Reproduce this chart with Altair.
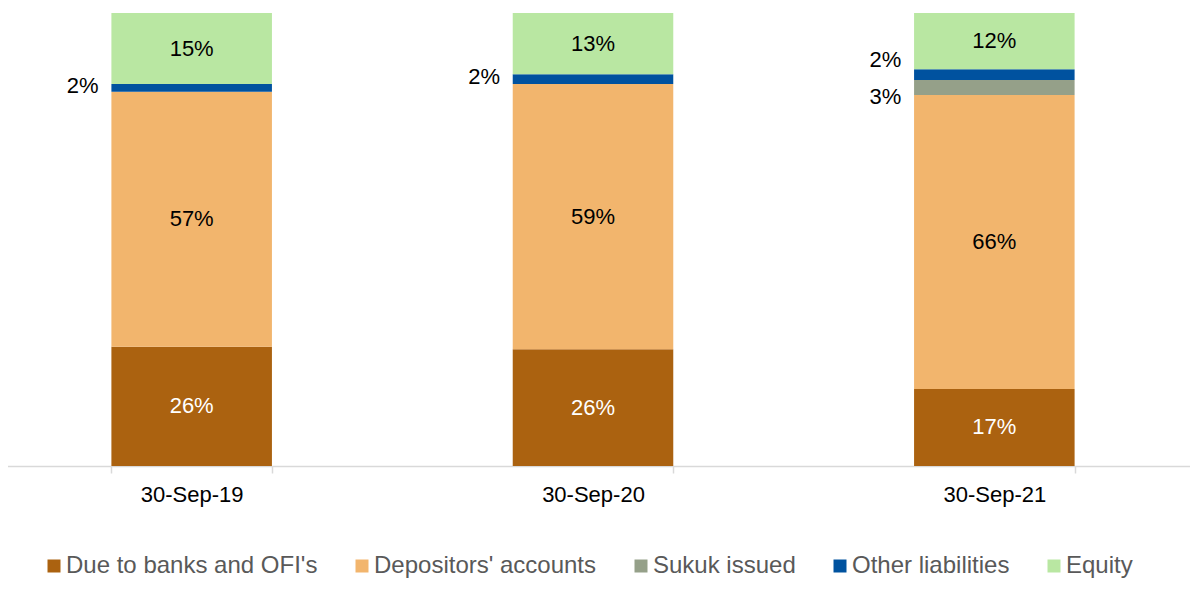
import altair as alt
import pandas as pd

dates = ["30-Sep-19", "30-Sep-20", "30-Sep-21"]
series = ["Due to banks and OFI's", "Depositors' accounts", "Sukuk issued",
          "Other liabilities", "Equity"]
colors = ["#AB6210", "#F2B56D", "#95A089", "#00529F", "#B9E7A2"]

due = [26.3, 25.8, 17.0]
depositors = [56.3, 58.5, 64.9]
sukuk = [0.0, 0.0, 3.3]
other = [1.7, 2.2, 2.4]
equity = [15.7, 13.5, 12.4]

labels_due = ["26%", "26%", "17%"]
labels_dep = ["57%", "59%", "66%"]
labels_sukuk = ["", "", "3%"]
labels_other = ["2%", "2%", "2%"]
labels_equity = ["15%", "13%", "12%"]

# label placement styles (inside / left of bar), vertical nudge in % units
placement = ["inside", "inside", "outside", "outside", "inside"]
text_colors = ["#FFFFFF", "#000000", "#000000", "#000000", "#000000"]
nudge_sukuk = [0.0, 0.0, -2.1]
nudge_other = [0.4, 0.5, 3.2]

values = [due, depositors, sukuk, other, equity]
labels = [labels_due, labels_dep, labels_sukuk, labels_other, labels_equity]
nudges = [[0, 0, 0], [0, 0, 0], nudge_sukuk, nudge_other, [0, 0, 0]]

rows = []
for si, s in enumerate(series):
    for di, d in enumerate(dates):
        rows.append({
            "date": d, "series": s, "order": si,
            "value": values[si][di], "label": labels[si][di],
            "place": placement[si], "tcolor": text_colors[si],
            "nudge": nudges[si][di],
        })
df = pd.DataFrame(rows)

FONT = "Liberation Sans"

x_enc = alt.X(
    "date:N", sort=dates,
    scale=alt.Scale(range=[-17, 1187], paddingInner=0.6, paddingOuter=0.3),
    axis=alt.Axis(title=None, labelAngle=0, tickBand="extent",
                  domainColor="#D9D9D9", tickColor="#D9D9D9", tickSize=7,
                  domainWidth=1.5, tickWidth=1.5,
                  labelFontSize=22, labelColor="#000000", labelPadding=11,
                  labelFont=FONT),
)

base = alt.Chart(df)

bars = base.mark_bar().encode(
    x=x_enc,
    y=alt.Y("value:Q", stack="zero", scale=alt.Scale(domain=[0, 100]), axis=None),
    color=alt.Color(
        "series:N", sort=series,
        scale=alt.Scale(domain=series, range=colors),
        legend=alt.Legend(
            title=None, orient="none", legendX=34, legendY=541,
            direction="horizontal", symbolType="square", symbolSize=169,
            symbolStrokeWidth=0, labelFontSize=24, labelColor="#595959",
            labelFont=FONT, labelOffset=0, columnPadding=32, padding=0,
            labelLimit=0,
        ),
    ),
    order=alt.Order("order:Q", sort="ascending"),
)

stacked = base.transform_stack(
    stack="value", as_=["v0", "v1"], groupby=["date"],
    sort=[alt.SortField("order", order="ascending")],
).transform_calculate(
    mid="(datum.v0 + datum.v1) / 2 + datum.nudge"
).transform_filter("datum.label != ''")

inside = stacked.transform_filter("datum.place == 'inside'").mark_text(
    fontSize=22, font=FONT, align="center", baseline="middle"
).encode(
    x=alt.X("date:N", sort=dates),
    y=alt.Y("mid:Q"),
    text="label:N",
    color=alt.Color("tcolor:N", scale=None),
)

outside = stacked.transform_filter("datum.place == 'outside'").mark_text(
    fontSize=22, font=FONT, align="right", baseline="middle", dx=-93,
    color="#000000"
).encode(
    x=alt.X("date:N", sort=dates),
    y=alt.Y("mid:Q"),
    text="label:N",
)

chart = alt.layer(bars, inside, outside).properties(
    width=1182, height=453,
    autosize=alt.AutoSizeParams(type="none"),
    padding={"left": 0, "top": 5, "right": 0, "bottom": 118},
).configure(font=FONT).configure_view(stroke=None)

chart.save("out.html", embed_options={"renderer": "svg", "actions": False})
